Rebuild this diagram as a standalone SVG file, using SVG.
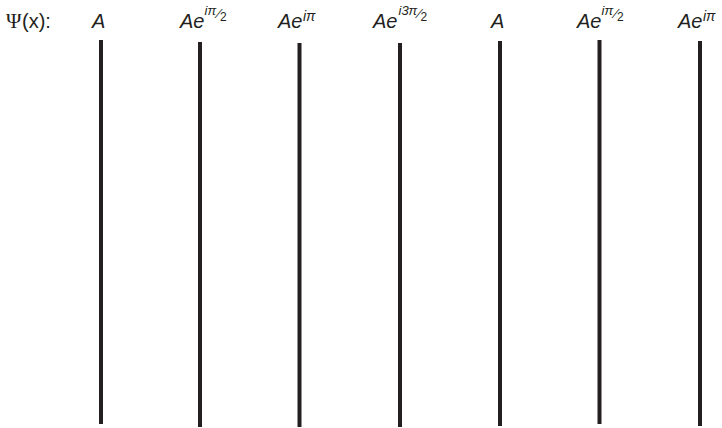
<svg xmlns="http://www.w3.org/2000/svg" width="722" height="428" viewBox="0 0 722 428">
<style>
.lbl{font-family:"Liberation Sans",Arial,sans-serif;font-size:20px;fill:#231f20}
.it{font-style:italic}
.sup{font-size:13px}
.sub{font-size:12px;font-style:normal}
.bar{stroke:#231f20;stroke-width:4;fill:none}
</style>
<rect width="722" height="428" fill="#ffffff"/>
<g id="label-psi">
<text class="lbl" y="28"><tspan x="6" style="font-family:'Liberation Serif','Times New Roman',serif;font-size:21px">Ψ</tspan><tspan x="22">(x):</tspan></text>
</g>
<g id="node1">
<text class="lbl it" x="92" y="28">A</text>
</g>
<g id="node2">
<text class="lbl it" y="28"><tspan x="180">Ae</tspan><tspan class="sup" x="204.5" y="15">iπ</tspan><tspan class="sup" x="218" y="18">⁄</tspan><tspan class="sub" x="220" y="21">2</tspan></text>
</g>
<g id="node3">
<text class="lbl it" y="28"><tspan x="278">Ae</tspan><tspan class="sup" x="303" y="21" style="font-size:14px">iπ</tspan></text>
</g>
<g id="node4">
<text class="lbl it" y="28"><tspan x="373">Ae</tspan><tspan class="sup" x="398.5" y="15">i3π</tspan><tspan class="sup" x="418.5" y="18">⁄</tspan><tspan class="sub" x="420.5" y="21">2</tspan></text>
</g>
<g id="node5">
<text class="lbl it" x="491" y="28">A</text>
</g>
<g id="node6">
<text class="lbl it" y="28"><tspan x="577">Ae</tspan><tspan class="sup" x="601.5" y="15">iπ</tspan><tspan class="sup" x="615" y="18">⁄</tspan><tspan class="sub" x="617" y="21">2</tspan></text>
</g>
<g id="node7">
<text class="lbl it" y="28"><tspan x="678">Ae</tspan><tspan class="sup" x="703" y="21" style="font-size:14px">iπ</tspan></text>
</g>
<g id="connectors">
<line class="bar" x1="101" y1="40" x2="101" y2="424"/>
<line class="bar" x1="200" y1="42" x2="200" y2="427"/>
<line class="bar" x1="299.5" y1="43" x2="299.5" y2="427"/>
<line class="bar" x1="400" y1="43" x2="400" y2="427"/>
<line class="bar" x1="500" y1="41" x2="500" y2="426"/>
<line class="bar" x1="599.5" y1="40" x2="599.5" y2="424"/>
<line class="bar" x1="700" y1="41" x2="700" y2="426"/>
</g>
</svg>
